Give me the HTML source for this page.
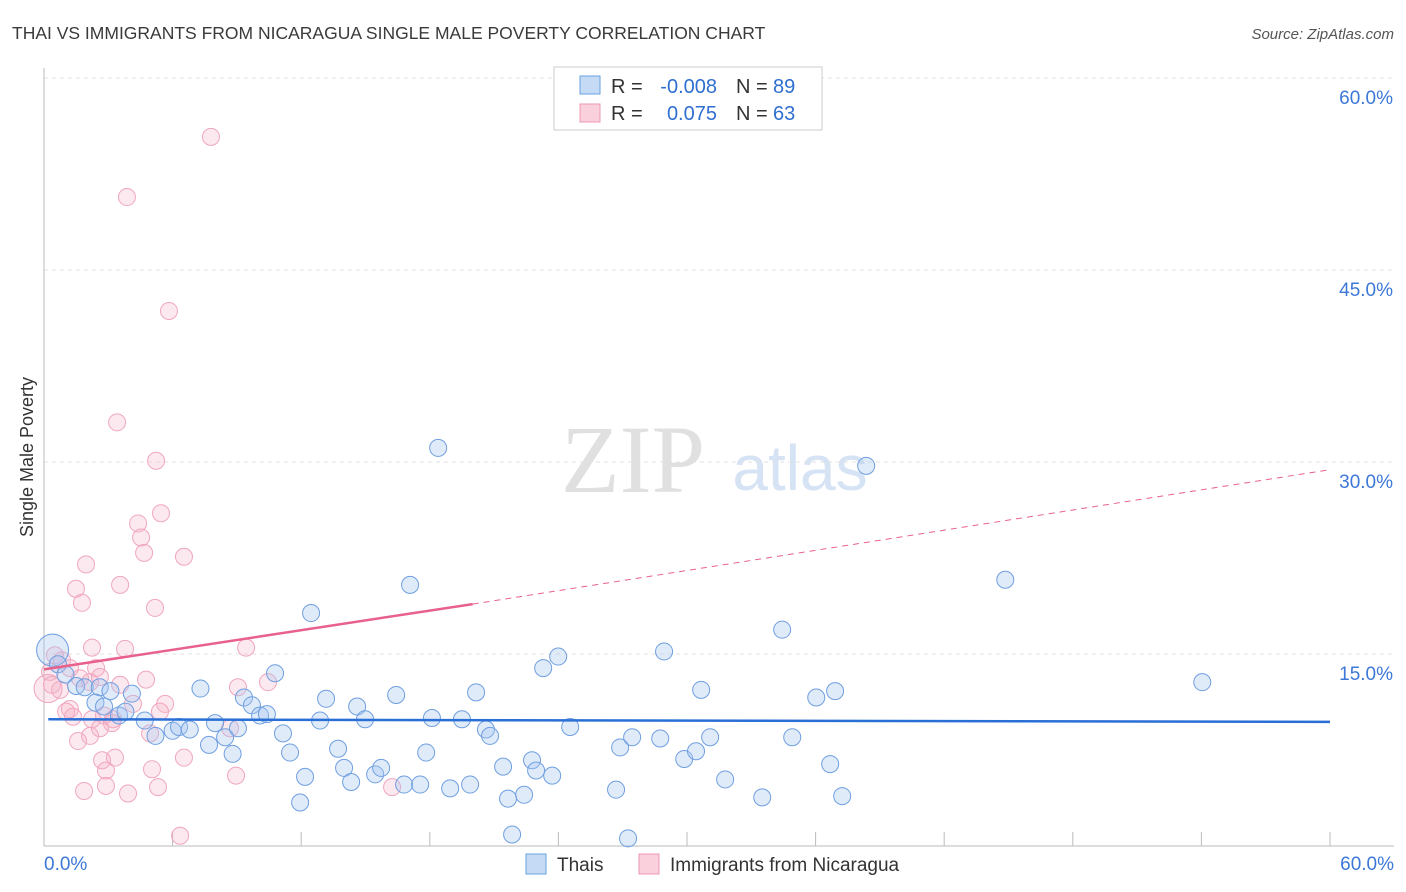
<!DOCTYPE html>
<html><head><meta charset="utf-8"><style>
body{margin:0;background:#fff;font-family:"Liberation Sans",sans-serif;}
svg{display:block}
</style></head><body>
<svg id="chart" width="1406" height="892">
<text x="12" y="39" font-size="17.5" fill="#3a3a3a">THAI VS IMMIGRANTS FROM NICARAGUA SINGLE MALE POVERTY CORRELATION CHART</text>
<text x="1394" y="39" font-size="15" fill="#555" text-anchor="end" font-style="italic">Source: ZipAtlas.com</text>
<text x="33" y="457" font-size="18" fill="#333" text-anchor="middle" transform="rotate(-90 33 457)">Single Male Poverty</text>
<g><text x="633" y="492" font-size="96" fill="#e0e0e0" text-anchor="middle" font-family="Liberation Serif,serif">ZIP</text><text x="800" y="490" font-size="64" fill="#d5e3f5" text-anchor="middle">atlas</text></g>
<g id="grid"></g><g id="pts"></g><g id="lines"></g>
<g>
<rect x="554" y="67" width="268" height="63" fill="#fff" stroke="#ccc"/>
<rect x="580" y="76" width="20" height="18" fill="#c5dbf5" stroke="#6aa0e0"/>
<rect x="580" y="104" width="20" height="18" fill="#fbd0dd" stroke="#ee98b4"/>
<text x="611" y="93" font-size="20" fill="#333">R =</text>
<text x="717" y="93" font-size="20" fill="#2f6fd0" text-anchor="end">-0.008</text>
<text x="736" y="93" font-size="20" fill="#333">N =</text>
<text x="773" y="93" font-size="20" fill="#2f6fd0">89</text>
<text x="611" y="120" font-size="20" fill="#333">R =</text>
<text x="717" y="120" font-size="20" fill="#2f6fd0" text-anchor="end">0.075</text>
<text x="736" y="120" font-size="20" fill="#333">N =</text>
<text x="773" y="120" font-size="20" fill="#2f6fd0">63</text>
</g>
<g>
<rect x="526" y="854" width="20" height="20" fill="#c5dbf5" stroke="#6aa0e0"/>
<text x="557" y="871" font-size="19" fill="#333">Thais</text>
<rect x="639" y="854" width="20" height="20" fill="#fbd0dd" stroke="#ee98b4"/>
<text x="670" y="871" font-size="19" fill="#333">Immigrants from Nicaragua</text>
</g>
</svg>
<script>
const yTicks=[15,30,45,60];
const xTickLabels=["0.0%","60.0%"];
const thaiX=[0.4,0.65,1,1.5,1.9,2.6,3.1,2.4,2.8,3.5,3.8,4.1,4.7,5.2,6,6.3,6.8,7.3,7.7,7.98,8.45,8.8,9.05,9.33,9.7,10.08,10.4,10.78,11.15,11.48,12.18,11.95,12.46,12.88,13.16,13.72,14,14.33,14.61,14.98,15.45,15.73,16.43,16.8,17.08,17.55,17.83,18.1,18.39,18.95,19.5,19.88,20.16,20.62,20.81,21.42,21.65,21.84,22.4,22.77,22.96,23.29,23.71,23.99,24.55,26.69,26.88,27.25,27.44,28.75,28.93,29.87,30.42,30.66,31.08,31.78,33.51,34.44,34.91,36.03,36.68,36.91,37.24,38.36,44.85,54.04];
const thaiY=[15.3,14.2,13.4,12.5,12.4,12.4,12.1,11.2,10.9,10.2,10.5,11.9,9.8,8.6,9,9.3,9.1,12.3,7.9,9.6,8.5,7.2,9.2,11.6,11,10.2,10.3,13.5,8.8,7.3,5.4,3.4,18.2,9.8,11.5,7.6,6.1,5,10.9,9.9,5.6,6.1,11.8,4.8,20.4,4.8,7.3,10,31.1,4.5,9.9,4.8,12,9.1,8.6,6.2,3.7,0.9,4,6.7,5.9,13.9,5.5,14.8,9.3,4.4,7.7,0.6,8.5,8.4,15.2,6.8,7.4,12.2,8.5,5.2,3.8,16.9,8.5,11.6,6.4,12.1,3.9,29.7,20.8,12.8];
const nicX=[7.79,3.87,5.83,3.41,5.23,5.46,4.39,4.53,4.67,6.53,1.96,3.55,1.49,1.77,5.18,9.43,2.24,3.78,0.51,0.84,1.21,2.43,0.28,1.68,2.15,2.61,0.37,0.75,3.55,4.76,9.05,10.45,1.21,1.03,1.35,2.24,2.8,3.22,4.15,5.65,5.41,4.95,1.59,2.15,2.61,3.17,8.68,2.71,3.31,2.89,5.04,6.53,8.96,1.87,2.89,3.92,5.32,6.35,16.24,0.19];
const nicY=[55.4,50.7,41.8,33.1,30.1,26,25.2,24.1,22.9,22.6,22,20.4,20.1,19,18.6,15.5,15.5,15.4,14.9,14.5,13.9,13.9,13.6,13.1,12.8,13.2,12.6,12.2,12.6,13,12.4,12.8,10.7,10.5,10.1,9.9,10.2,9.9,11.1,11.1,10.5,8.8,8.2,8.6,9.2,9.6,9.2,6.7,6.9,5.9,6.0,6.9,5.5,4.3,4.7,4.1,4.6,0.8,4.6,12.3];
const X0=44,X1=1330,Y0=846,YPX=12.8;
const sx=v=>X0+(X1-X0)*v/60, sy=v=>Y0-v*YPX;
const NS="http://www.w3.org/2000/svg";
function mk(t,a,p){const e=document.createElementNS(NS,t);for(const k in a)e.setAttribute(k,a[k]);p.appendChild(e);return e;}
const g=document.getElementById('grid');
yTicks.forEach(v=>{
 const l=mk('line',{x1:44,x2:1394,y1:sy(v),y2:sy(v),stroke:'#e2e2e2','stroke-dasharray':'4,4'},g);
 
 
 const t=mk('text',{x:1393,y:sy(v)+26,'font-size':19,fill:'#3d78d8','text-anchor':'end'},g);t.textContent=v.toFixed(1)+'%';
 
 
});
const ax=mk('line',{x1:44,x2:44,y1:68,y2:846,stroke:'#bbb'},g);


const bx=mk('line',{x1:44,x2:1394,y1:846,y2:846,stroke:'#bbb'},g);


for(let i=1;i<=10;i++){const t=mk('line',{x1:sx(i*6),x2:sx(i*6),y1:832,y2:846,stroke:'#bbb'},g);
 
 }
[[0,'start',44],[60,'end',1394]].forEach((d,i)=>{const t=mk('text',{x:d[2],y:870,'font-size':19,fill:'#3d78d8','text-anchor':d[1]},g);t.textContent=xTickLabels[i];
 
 });
const p=document.getElementById('pts');
nicX.forEach((x,i)=>{const c=mk('circle',{cx:sx(x),cy:sy(nicY[i]),r:i==nicX.length-1?14:8.5,fill:'rgba(246,175,198,0.28)',stroke:'#f0a6bf','stroke-width':1},p);
 
 });
thaiX.forEach((x,i)=>{const c=mk('circle',{cx:sx(x),cy:sy(thaiY[i]),r:i==0?16:8.5,fill:'rgba(165,198,240,0.35)',stroke:'#6f9fe0','stroke-width':1},p);
 
 });
const L=document.getElementById('lines');
const b=mk('line',{x1:sx(0.2),y1:sy(9.9),x2:sx(60),y2:sy(9.7),stroke:'#2a6fd6','stroke-width':2.5},L);


const pk=mk('line',{x1:sx(0),y1:sy(13.8),x2:sx(20),y2:sy(18.9),stroke:'#e8618c','stroke-width':2.5},L);


const pd=mk('line',{x1:sx(20),y1:sy(18.9),x2:sx(60),y2:sy(29.4),stroke:'#e8618c','stroke-width':1,'stroke-dasharray':'6,5'},L);


</script>
</body></html>
